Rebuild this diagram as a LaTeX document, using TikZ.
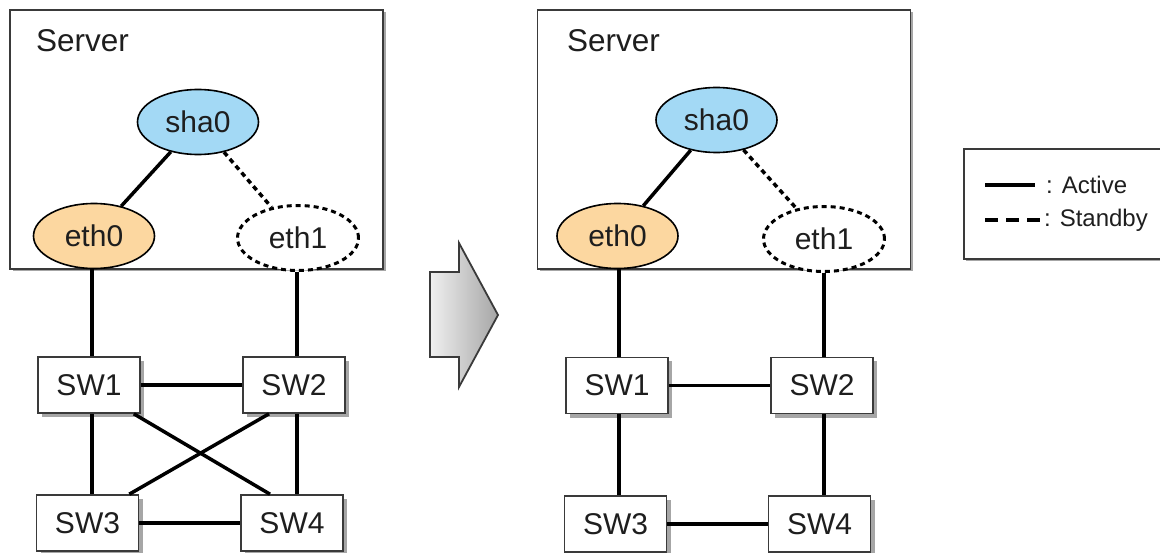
\documentclass[tikz,border=0pt]{standalone}
\usepackage{fontspec}
\setmainfont{Liberation Sans}
\usetikzlibrary{positioning,calc,shapes.geometric}
\definecolor{shablue}{HTML}{A3D9F5}
\definecolor{ethorange}{HTML}{FCD7A0}
\definecolor{edgegray}{HTML}{3A3A3A}
\definecolor{txtgray}{HTML}{1E1E1E}
\tikzset{
  big/.style={font=\fontsize{30}{34}\selectfont,text=txtgray},
  small/.style={font=\fontsize{24}{28}\selectfont,text=txtgray},
  % grey copy of the box, pushed down and right
  shadowed/.style={preaction={draw=none,fill=black!35,transform canvas={shift={(#1,-#1)}}}},
  shadowed/.default=4pt,
  serverbox/.style={rectangle,draw=edgegray,line width=1.8pt,fill=white,shadowed=2.5pt,
                    minimum width=373pt,minimum height=259pt,inner sep=0},
  iface/.style={ellipse,draw=black,line width=1.6pt,big,minimum width=121pt,minimum height=65pt,inner sep=0},
  bond/.style={iface,fill=shablue},
  activeif/.style={iface,fill=ethorange},
  % an interface on standby: white ellipse with a dotted border
  spareif/.style={iface,fill=white,line width=3pt,dash pattern=on 5pt off 4pt},
  swbox/.style={rectangle,draw=edgegray,line width=1.6pt,fill=white,shadowed,big,
                minimum width=102pt,minimum height=56pt,inner sep=0},
  srvlabel/.style={big,anchor=base west,inner sep=0,font=\fontsize{31.5}{36}\selectfont},
  link/.style={line width=3.5pt,black},
  standby/.style={line width=3.5pt,black,dash pattern=on 5pt off 4pt},
}
\begin{document}
\begin{tikzpicture}[x=1pt,y=-1pt]
  \useasboundingbox (0,0) rectangle (1160,553);
  % before: both paths into the switch mesh
  \node[serverbox] (srvL) at (196.5,139.5) {};
  \node[srvlabel] (srvtxtL) at (36,52) {Server};
  \node[bond] (shaL) at (198,122) {sha0};
  \node[activeif] (eth0L) at (94,236) {eth0};
  \node[spareif] (eth1L) at (298,238) {eth1};
  \node[swbox] (sw1L) at (89,385) {SW1};
  \node[swbox] (sw2L) at (294,385) {SW2};
  \node[swbox] (sw3L) at (87.5,523) {SW3};
  \node[swbox] (sw4L) at (292,523) {SW4};
  \draw[link] (shaL) -- (eth0L);
  \draw[standby] (shaL) -- (eth1L);
  \draw[link] ([xshift=-2pt]eth0L.south) -- ([xshift=-2pt]eth0L.south |- sw1L.north);
  \draw[link] ([xshift=-1pt]eth1L.south) -- ([xshift=-1pt]eth1L.south |- sw2L.north);
  \draw[link] (sw1L) -- (sw2L);
  \draw[link] (sw3L) -- (sw4L);
  \draw[link] ([xshift=3pt]sw1L.south) -- ([xshift=3pt]sw1L.south |- sw3L.north);
  \draw[link] ([xshift=3pt]sw2L.south) -- ([xshift=3pt]sw2L.south |- sw4L.north);
  \draw[link] ([xshift=-7pt]sw1L.south east) -- ([xshift=-22pt]sw4L.north);
  \draw[link] ([xshift=-25pt]sw2L.south) -- ([xshift=-10pt]sw3L.north east);
  % the switch-over arrow
  \coordinate (arrL) at (430,272);
  \shade[left color=gray!12,right color=gray!70] (arrL) -- (459,272) -- (459,243) -- (498,315)
    -- (459,387) -- (459,357) -- (430,357) -- cycle;
  \draw[edgegray,line width=1.8pt,line join=miter] (arrL) -- (459,272) -- (459,243) -- (498,315)
    -- (459,387) -- (459,357) -- (430,357) -- cycle;
  % after: the crossing links are gone
  \node[serverbox] (srvR) at (724,139.5) {};
  \node[srvlabel] (srvtxtR) at (567,52) {Server};
  \node[bond] (shaR) at (716.5,120) {sha0};
  \node[activeif] (eth0R) at (617.5,236) {eth0};
  \node[spareif] (eth1R) at (824,239) {eth1};
  \node[swbox] (sw1R) at (617,385.5) {SW1};
  \node[swbox] (sw2R) at (822,385.5) {SW2};
  \node[swbox] (sw3R) at (615.5,524) {SW3};
  \node[swbox] (sw4R) at (819.5,524) {SW4};
  \draw[link] (shaR) -- (eth0R);
  \draw[standby] (shaR) -- (eth1R);
  \draw[link] ([xshift=1.5pt]eth0R.south) -- ([xshift=1.5pt]eth0R.south |- sw1R.north);
  \draw[link] (eth1R.south) -- (eth1R.south |- sw2R.north);
  \draw[link] (sw1R) -- (sw2R);
  \draw[link] (sw3R) -- (sw4R);
  \draw[link] ([xshift=2pt]sw1R.south) -- ([xshift=2pt]sw1R.south |- sw3R.north);
  \draw[link] ([xshift=2pt]sw2R.south) -- ([xshift=2pt]sw2R.south |- sw4R.north);
  % legend, cut off by the right margin
  \node[rectangle,draw=edgegray,line width=1.8pt,fill=white,shadowed=2.5pt,anchor=north west,
        minimum width=230pt,minimum height=110pt,inner sep=0] (legend) at (963,148) {};
  \coordinate (actA) at (985,185); \coordinate (actB) at (1035,185);
  \coordinate (stbA) at (985,220); \coordinate (stbB) at (1040,220);
  \draw[link] (actA) -- (actB);
  \draw[line width=3.5pt,black,dash pattern=on 13pt off 8pt] (stbA) -- (stbB);
  \node[small,anchor=west,inner sep=0] (acttxt) at (1046,185) {: Active};
  \node[small,anchor=west,inner sep=0] (stbtxt) at (1044,220) {: Standby};
\end{tikzpicture}
\end{document}
